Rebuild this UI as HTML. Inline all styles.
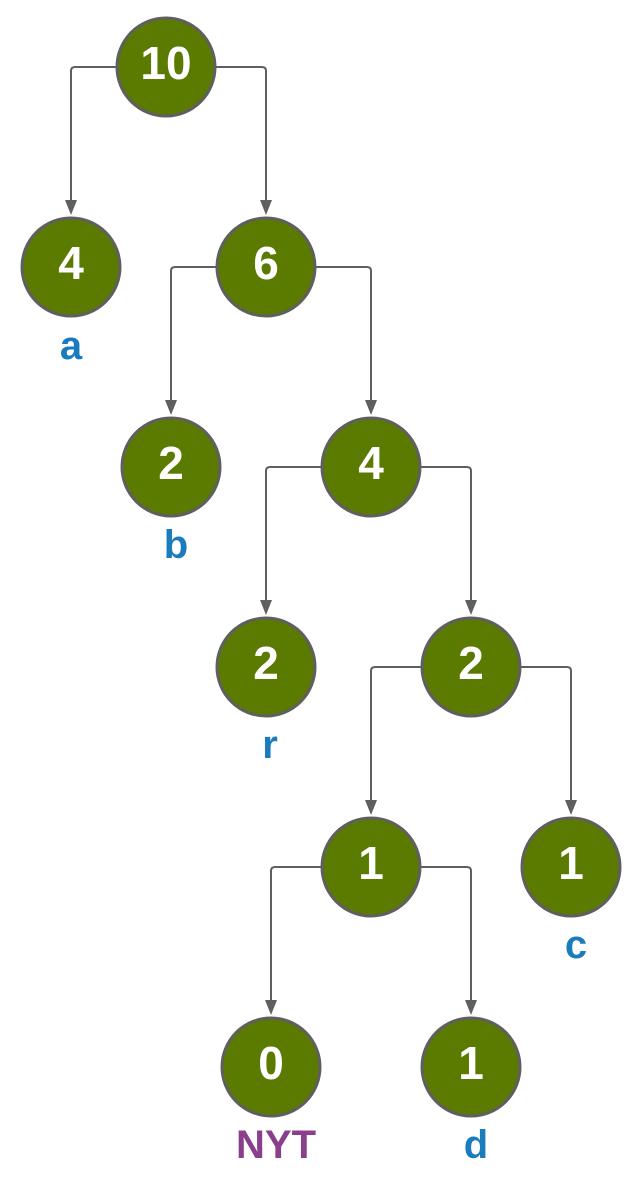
<!DOCTYPE html>
<html><head><style>body{margin:0;background:#fff}</style></head><body>
<svg width="638" height="1185" xmlns="http://www.w3.org/2000/svg" font-family="Liberation Sans, sans-serif" font-weight="bold">
<g fill="none" stroke="#5f5f5f" stroke-width="2">
<path d="M116,67 H75 Q71,67 71,71 V202"/><path d="M216,67 H262 Q266,67 266,71 V202"/>
<path d="M216,267 H175 Q171,267 171,271 V402"/><path d="M316,267 H367 Q371,267 371,271 V402"/>
<path d="M321,467 H270 Q266,467 266,471 V602"/><path d="M421,467 H467 Q471,467 471,471 V602"/>
<path d="M421,667 H375 Q371,667 371,671 V802"/><path d="M521,667 H567 Q571,667 571,671 V802"/>
<path d="M321,867 H275 Q271,867 271,871 V1002"/><path d="M421,867 H467 Q471,867 471,871 V1002"/>
</g>
<g fill="#5f5f5f">
<path d="M65,200 h12 l-6,15z"/><path d="M260,200 h12 l-6,15z"/>
<path d="M165,400 h12 l-6,15z"/><path d="M365,400 h12 l-6,15z"/>
<path d="M260,600 h12 l-6,15z"/><path d="M465,600 h12 l-6,15z"/>
<path d="M365,800 h12 l-6,15z"/><path d="M565,800 h12 l-6,15z"/>
<path d="M265,1000 h12 l-6,15z"/><path d="M465,1000 h12 l-6,15z"/>
</g>
<g fill="#5b7b00" stroke="#5f5f5f" stroke-width="3">
<circle cx="166" cy="67" r="49"/><circle cx="71" cy="267" r="49"/><circle cx="266" cy="267" r="49"/>
<circle cx="171" cy="467" r="49"/><circle cx="371" cy="467" r="49"/><circle cx="266" cy="667" r="49"/>
<circle cx="471" cy="667" r="49"/><circle cx="371" cy="867" r="49"/><circle cx="571" cy="867" r="49"/>
<circle cx="271" cy="1067" r="49"/><circle cx="471" cy="1067" r="49"/>
</g>
<g fill="#fff" font-size="46" text-anchor="middle">
<text x="166" y="79">10</text><text x="71" y="279">4</text><text x="266" y="279">6</text>
<text x="171" y="479">2</text><text x="371" y="479">4</text><text x="266" y="679">2</text>
<text x="471" y="679">2</text><text x="371" y="879">1</text><text x="571" y="879">1</text>
<text x="271" y="1079">0</text><text x="471" y="1079">1</text>
</g>
<g fill="#1a7bbd" font-size="40" text-anchor="middle">
<text x="71" y="359">a</text><text x="176" y="558">b</text><text x="270" y="758">r</text>
<text x="576" y="958">c</text><text x="476" y="1158">d</text>
<text x="276" y="1158" fill="#8a3f8c">NYT</text>
</g>
</svg>
</body></html>
